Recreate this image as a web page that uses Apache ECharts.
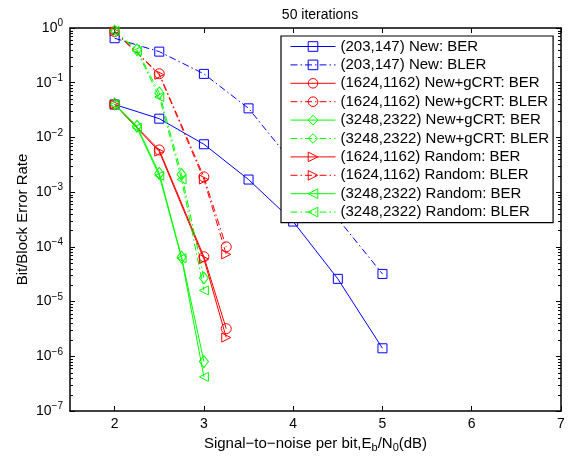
<!DOCTYPE html>
<html>
<head>
<meta charset="utf-8">
<script src="https://cdn.jsdelivr.net/npm/echarts@6/dist/echarts.min.js"></script>
<style>
  html, body { margin: 0; padding: 0; background: #fff; }
  #chart { width: 569px; height: 458px; }
</style>
</head>
<body>
<div id="chart"></div>
<script>
// 数据 (从图上读出来的)
const snr203 = [2, 2.5, 3, 3.5, 4, 4.5, 5];
const ber203 = [0.04, 0.022, 0.0075, 0.0017, 2.9e-4, 2.6e-5, 1.4e-6];
const snr203Bler = [2, 2.5, 3, 3.5, 5];
const bler203 = [0.65, 0.37, 0.145, 0.034, 3.2e-5];

const snr1624 = [2, 2.5, 3, 3.25];
const ber1624New = [0.04, 0.0059, 6.6e-5, 3.2e-6];
const bler1624New = [0.86, 0.146, 0.0019, 1.0e-4];
const ber1624Rand = [0.04, 0.0055, 6.0e-5, 2.2e-6];
const bler1624Rand = [0.86, 0.14, 0.0017, 7.3e-5];

const snr3248 = [2, 2.25, 2.5, 2.75, 3];
const ber3248New = [0.041, 0.016, 0.0022, 6.5e-5, 8.0e-7];
const bler3248New = [0.88, 0.40, 0.065, 0.0021, 2.7e-5];
const ber3248Rand = [0.04, 0.015, 0.002, 6.2e-5, 4.2e-7];
const bler3248Rand = [0.88, 0.38, 0.055, 0.0017, 1.6e-5];

const xTicks = [2, 3, 4, 5, 6, 7];
const yDecades = [-7, -6, -5, -4, -3, -2, -1, 0];

const FONT = "Liberation Sans";
const BLUE = "#0000ff", RED = "#ff0000", GREEN = "#00ff00";
const DASHDOT = [7, 3, 1.5, 3];

// 对数轴的小刻度 2..9 x 10^n
const minorTicks = [];
yDecades.slice(0, -1).forEach(e => {
  for (let k = 2; k <= 9; k++) minorTicks.push([1.5, k * Math.pow(10, e)]);
});

const SQ = "rect";
const CIR = "circle";
const DIA = "diamond";
const TRI_R = "path://M0,0L10,5L0,10Z";
const TRI_L = "path://M10,0L0,5L10,10Z";

function mk(name, xs, ys, color, dashed, symbol, size) {
  return {
    name: name,
    type: "line",
    data: xs.map((x, i) => [x, ys[i]]),
    symbol: symbol,
    symbolSize: size || 9,
    showSymbol: true,
    animation: false,
    lineStyle: { color: color, width: 1, type: dashed ? DASHDOT : "solid" },
    itemStyle: { color: "rgba(0,0,0,0)", borderColor: color, borderWidth: 1 },
    emphasis: { disabled: true },
    z: 3
  };
}

const seriesList = [
  mk("(203,147) New: BER", snr203, ber203, BLUE, false, SQ, 9),
  mk("(203,147) New: BLER", snr203Bler, bler203, BLUE, true, SQ, 9),
  mk("(1624,1162) New+gCRT: BER", snr1624, ber1624New, RED, false, CIR, 10),
  mk("(1624,1162) New+gCRT: BLER", snr1624, bler1624New, RED, true, CIR, 10),
  mk("(3248,2322) New+gCRT: BER", snr3248, ber3248New, GREEN, false, DIA, [9, 12]),
  mk("(3248,2322) New+gCRT: BLER", snr3248, bler3248New, GREEN, true, DIA, [9, 12]),
  mk("(1624,1162) Random: BER", snr1624, ber1624Rand, RED, false, TRI_R, 9),
  mk("(1624,1162) Random: BLER", snr1624, bler1624Rand, RED, true, TRI_R, 9),
  mk("(3248,2322) Random: BER", snr3248, ber3248Rand, GREEN, false, TRI_L, 9),
  mk("(3248,2322) Random: BLER", snr3248, bler3248Rand, GREEN, true, TRI_L, 9)
];

// 小刻度 (左右两边)
seriesList.push({
  type: "custom",
  silent: true,
  animation: false,
  clip: false,
  data: minorTicks,
  z: 1,
  renderItem: function (params, api) {
    const p = api.coord([api.value(0), api.value(1)]);
    const cs = params.coordSys;
    const st = { stroke: "#000", lineWidth: 1 };
    const y = Math.round(p[1]) + 0.5;
    return {
      type: "group",
      children: [
        { type: "line", shape: { x1: cs.x, y1: y, x2: cs.x + 3, y2: y }, style: st },
        { type: "line", shape: { x1: cs.x + cs.width - 3, y1: y, x2: cs.x + cs.width, y2: y }, style: st }
      ]
    };
  }
});

function supLabel(v) {
  const e = Math.round(Math.log10(v));
  return "10{sup|" + (e < 0 ? "\u2212" + (-e) : e) + "}";
}

const axisLineStyle = { color: "#000", width: 1.5 };

const option = {
  animation: false,
  backgroundColor: "#fff",
  title: {
    text: "50 iterations",
    left: 315, top: 3, textAlign: "center",
    textStyle: { fontFamily: FONT, fontSize: 14, fontWeight: "normal", color: "#000" }
  },
  grid: { left: 70, right: 8, top: 28, bottom: 44 },
  legend: {
    data: seriesList.slice(0, 10).map(s => s.name),
    orient: "vertical",
    left: 281, top: 36,
    padding: [3, 4, 3, 9],
    itemWidth: 45, itemHeight: 12, itemGap: 3.4,
    borderColor: "#000", borderWidth: 1.2, backgroundColor: "#fff",
    lineStyle: { width: 1 },
    itemStyle: { borderWidth: 1 },
    textStyle: { fontFamily: FONT, fontSize: 15, color: "#000", lineHeight: 15 },
    selectedMode: false,
    z: 10
  },
  xAxis: [
    {
      type: "value", min: 1.5, max: 7,
      name: "Signal\u2212to\u2212noise per bit,E{sub|b}/N{sub|0}(dB)",
      nameLocation: "middle", nameGap: 23,
      nameTextStyle: {
        fontFamily: FONT, fontSize: 15, color: "#000",
        rich: { sub: { fontFamily: FONT, fontSize: 11, verticalAlign: "bottom", padding: [8, 0, 0, 0] } }
      },
      axisLine: { lineStyle: axisLineStyle },
      axisTick: { inside: true, length: 5, customValues: xTicks, lineStyle: { color: "#000" } },
      axisLabel: { customValues: xTicks, fontFamily: FONT, fontSize: 14, color: "#000", margin: 6 },
      splitLine: { show: false }
    },
    {
      type: "value", min: 1.5, max: 7, position: "top",
      axisLine: { lineStyle: axisLineStyle },
      axisTick: { inside: true, length: 5, customValues: xTicks, lineStyle: { color: "#000" } },
      axisLabel: { show: false },
      splitLine: { show: false }
    }
  ],
  yAxis: [
    {
      type: "log", logBase: 10, min: 1e-7, max: 1, interval: 1,
      name: "Bit/Block Error Rate",
      nameLocation: "middle", nameGap: 40, nameMoveOverlap: false,
      nameTextStyle: { fontFamily: FONT, fontSize: 15, color: "#000" },
      axisLine: { show: true, lineStyle: axisLineStyle },
      axisTick: { inside: true, length: 5, lineStyle: { color: "#000" } },
      axisLabel: {
        fontFamily: FONT, fontSize: 14, color: "#000", margin: 7,
        formatter: supLabel,
        rich: { sup: { fontFamily: FONT, fontSize: 10, verticalAlign: "top", padding: [0, 0, 9, 0] } }
      },
      splitLine: { show: false }
    },
    {
      type: "log", logBase: 10, min: 1e-7, max: 1, interval: 1, position: "right",
      axisLine: { show: true, lineStyle: axisLineStyle },
      axisTick: { inside: true, length: 5, lineStyle: { color: "#000" } },
      axisLabel: { show: false },
      splitLine: { show: false }
    }
  ],
  series: seriesList
};

const chart = echarts.init(document.getElementById("chart"));
chart.setOption(option);
</script>
</body>
</html>
